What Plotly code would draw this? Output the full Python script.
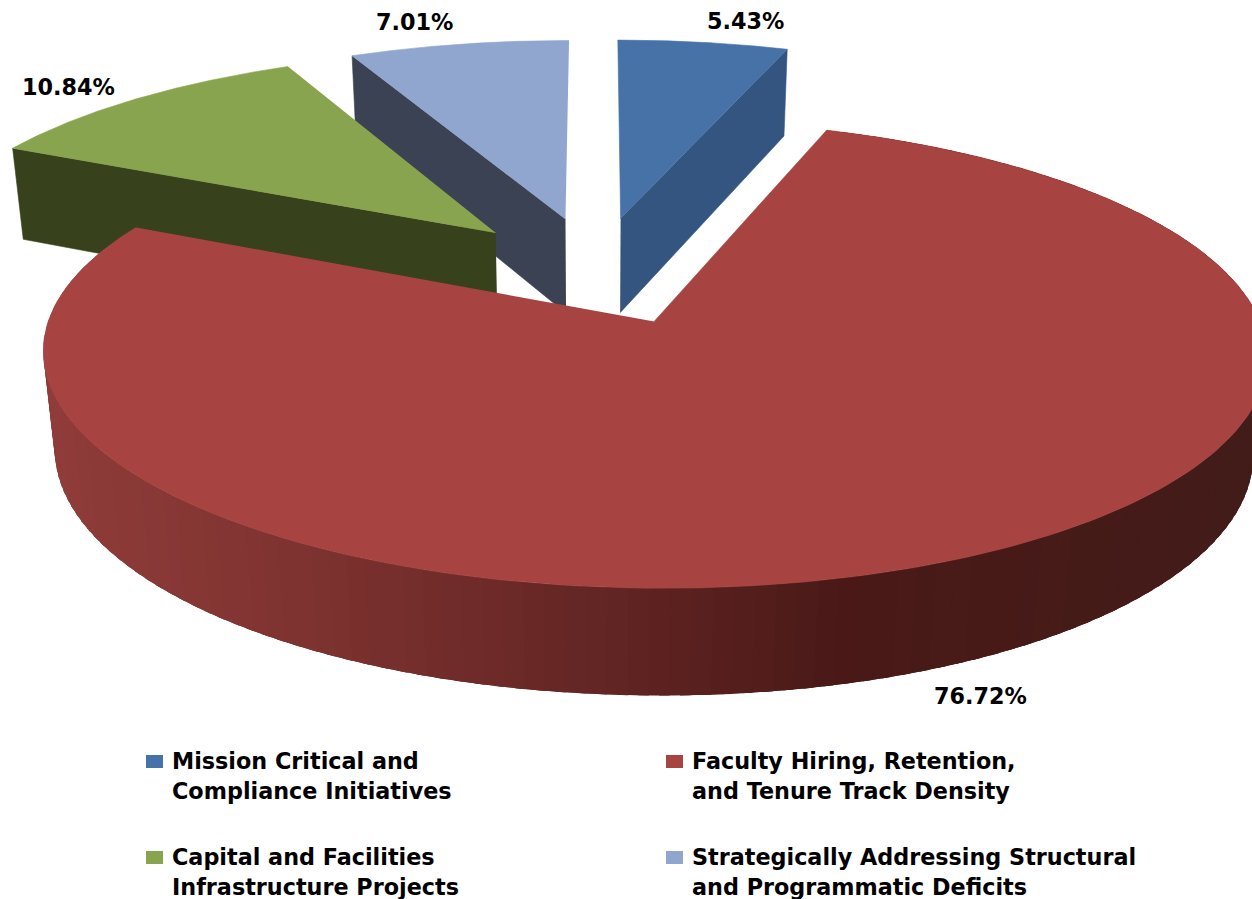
import numpy as np
import plotly.graph_objects as go

# Data
categories = ["Mission Critical and Compliance Initiatives",
              "Faculty Hiring, Retention, and Tenure Track Density",
              "Capital and Facilities Infrastructure Projects",
              "Strategically Addressing Structural and Programmatic Deficits"]
values = [5.43, 76.72, 10.84, 7.01]
legend_lines = [["Mission Critical and", "Compliance Initiatives"],
                ["Faculty Hiring, Retention,", "and Tenure Track Density"],
                ["Capital and Facilities", "Infrastructure Projects"],
                ["Strategically Addressing Structural", "and Programmatic Deficits"]]
top_colors = ["#4672A7", "#A74442", "#89A44E", "#91A6CF"]
cut_colors = ["#33557F", "#6B2A28", "#37411C", "#3B4254"]

# Projection of the tilted, exploded pie onto the page
X0, Y0, A, B, K, C, M, EXPLODE = 596.5, 270, 587, 215.5, 0.135, 98, 0.02, 0.25
FONT = "DejaVu Sans"
FS = 22.3


def project(px, py, d=0.0):
    w = 1 + K * py + M * d
    return X0 + A * px / w, Y0 - (B * py - C * d) / w


def lerp_color(x):
    stops = [(50, (143, 60, 58)), (300, (127, 51, 48)), (600, (100, 38, 36)),
             (850, (74, 25, 23)), (1252, (66, 28, 25))]
    xs = [s[0] for s in stops]
    rgb = [np.interp(x, xs, [s[1][i] for s in stops]) for i in range(3)]
    return "rgb(%d,%d,%d)" % tuple(int(round(v)) for v in rgb)


def poly(xs, ys, color, lw=0.6):
    return go.Scatter(x=list(xs), y=list(ys), mode="lines", fill="toself", fillcolor=color,
                      line=dict(color=color, width=lw), hoverinfo="skip", showlegend=False)


fracs = np.array(values) / sum(values) * 2 * np.pi
ends = np.cumsum(fracs)
starts = ends - fracs

fig = go.Figure()


def geometry(i):
    mid = (starts[i] + ends[i]) / 2
    ox, oy = EXPLODE * np.sin(mid), EXPLODE * np.cos(mid)
    th = np.linspace(starts[i], ends[i], 240)
    return ox, oy, th


def cut_face(i, angle):
    ox, oy, _ = geometry(i)
    ox1, oy1 = ox + np.sin(angle), oy + np.cos(angle)
    pts = [project(ox, oy), project(ox1, oy1), project(ox1, oy1, 1), project(ox, oy, 1)]
    fig.add_trace(poly([p[0] for p in pts], [p[1] for p in pts], cut_colors[i]))


def top_face(i):
    ox, oy, th = geometry(i)
    sx, sy = project(ox + np.sin(th), oy + np.cos(th))
    fig.add_trace(poly(np.r_[project(ox, oy)[0], sx], np.r_[project(ox, oy)[1], sy], top_colors[i]))


# Back to front: light blue, blue, green, red
cut_face(3, starts[3])
top_face(3)
cut_face(0, ends[0])
top_face(0)
cut_face(2, starts[2])
top_face(2)

# Red rim, shaded across the page; each band overlaps the next to hide seams
ox, oy, th = geometry(1)
edges = np.linspace(th[0], th[-1], 160)
step = edges[1] - edges[0]
for a in edges[:-1]:
    t = np.clip(np.array([a, a + 2.5 * step]), th[0], th[-1])
    x1, y1 = project(ox + np.sin(t), oy + np.cos(t))
    x2, y2 = project(ox + np.sin(t[::-1]), oy + np.cos(t[::-1]), 1)
    fig.add_trace(poly(np.r_[x1, x2], np.r_[y1, y2], lerp_color(x1[0]), lw=0))
top_face(1)

# Percentage labels
label_pos = [(745, 21), (980, 696), (68, 87), (414, 22)]
annotations = []
for v, (lx, ly) in zip(values, label_pos):
    annotations.append(dict(x=lx, y=ly, text="<b>%.2f%%</b>" % v, showarrow=False, xanchor="center",
                            yanchor="middle", font=dict(family=FONT, size=FS, color="#000000")))

# Legend
leg_x = [170, 690, 170, 690]
leg_y = [761, 761, 857, 857]
shapes = []
for i in range(4):
    shapes.append(dict(type="rect", x0=leg_x[i] - 24, x1=leg_x[i] - 7, y0=leg_y[i] - 6, y1=leg_y[i] + 7,
                       fillcolor=top_colors[i], line=dict(width=0), layer="above"))
    for j, line in enumerate(legend_lines[i]):
        annotations.append(dict(x=leg_x[i], y=leg_y[i] + 30 * j, text="<b>%s</b>" % line, showarrow=False,
                                xanchor="left", yanchor="middle",
                                font=dict(family=FONT, size=FS, color="#000000")))

fig.update_layout(width=1252, height=899, margin=dict(l=0, r=0, t=0, b=0), autosize=False,
                  paper_bgcolor="white", plot_bgcolor="white", showlegend=False,
                  xaxis=dict(range=[0, 1252], visible=False, fixedrange=True),
                  yaxis=dict(range=[899, 0], visible=False, fixedrange=True),
                  annotations=annotations, shapes=shapes)
fig.write_html("out.html", config=dict(displayModeBar=False),
               post_script="document.body.style.margin='0';document.documentElement.style.overflow='hidden';")
